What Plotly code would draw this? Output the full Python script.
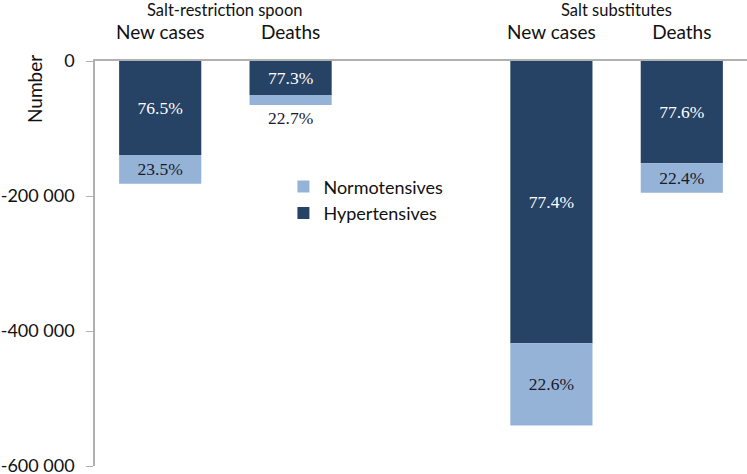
import plotly.graph_objects as go

# bar slots (slot 2 is an empty gap between the two groups)
slot_pos = [0, 1, 3, 4]
slot_names = ['New cases', 'Deaths', 'New cases', 'Deaths']
group_names = ['Salt-restriction spoon', 'Salt substitutes']
group_pos = [0.5, 3.5]

hypertensives = [-139200, -50300, -418000, -151300]
normotensives = [-42800, -14700, -122000, -43700]
hyp_labels = ['76.5%', '77.3%', '77.4%', '77.6%']
norm_labels = ['23.5%', '22.7%', '22.6%', '22.4%']

y_ticks = [0, -200000, -400000, -600000]
y_tick_text = ['0', '-200 000', '-400 000', '-600 000']

dark = '#264264'
light = '#95b3d7'
gray = '#b0b0b0'
serif = 'Liberation Serif'

fig = go.Figure()

fig.add_bar(x=slot_pos, y=hypertensives, name='Hypertensives',
            marker_color=dark, marker_line_width=0, width=0.63,
            text=hyp_labels, textposition='inside', insidetextanchor='middle',
            textfont=dict(family=serif, size=17.5, color='white'),
            insidetextfont=dict(family=serif, size=17.5, color='white'))

fig.add_bar(x=slot_pos, y=normotensives, name='Normotensives',
            marker_color=light, marker_line_width=0, width=0.63,
            text=norm_labels, textposition=['inside', 'outside', 'inside', 'inside'],
            insidetextanchor='middle', cliponaxis=False,
            textfont=dict(family=serif, size=17.5, color='#1a1a2a'),
            insidetextfont=dict(family=serif, size=17.5, color='#1a1a2a'),
            outsidetextfont=dict(family=serif, size=17.5, color='#1a1a2a'))

for name, pos in zip(group_names, group_pos):
    fig.add_annotation(x=pos, y=1, xref='x', yref='paper', text=name, showarrow=False,
                       yanchor='middle', yshift=51, font=dict(family='Lato', size=16.5, color='#111'))

fig.add_annotation(x=-0.092, y=0.931, xref='paper', yref='paper', text='Number', textangle=-90,
                   xanchor='center', yanchor='middle',
                   showarrow=False, font=dict(family='Lato', size=19, color='#111'))

fig.update_xaxes(side='top', range=[-0.5, 4.5], tickvals=slot_pos, ticktext=slot_names,
                 showline=True, linecolor=gray, linewidth=1.5, ticks='', showgrid=False,
                 zeroline=False, ticklabelstandoff=13, automargin=False,
                 tickfont=dict(family='Lato', size=19, color='#111'))
fig.update_yaxes(range=[-600000, 0], tickvals=y_ticks, ticktext=y_tick_text,
                 showline=True, linecolor=gray, linewidth=1.5, ticks='outside', ticklen=7,
                 tickcolor=gray, showgrid=False, zeroline=False, automargin=False,
                 ticklabelstandoff=8, ticklabeloverflow='allow',
                 tickfont=dict(family='Lato', size=18, color='#111'))

fig.update_layout(width=747, height=474, barmode='relative', bargap=0.37,
                  plot_bgcolor='white', paper_bgcolor='white',
                  margin=dict(l=95, r=0, t=61, b=8),
                  legend=dict(x=0.289, y=0.735, xanchor='left', yanchor='top', traceorder='reversed',
                              bgcolor='rgba(0,0,0,0)', font=dict(family='Lato', size=18, color='#111'),
                              itemwidth=30, tracegroupgap=0),
                  showlegend=True)

# drop the default 8px body margin so the figure sits at the page corner
fig.write_html('out.html', config={'displayModeBar': False},
               post_script="document.body.style.margin='0';")
